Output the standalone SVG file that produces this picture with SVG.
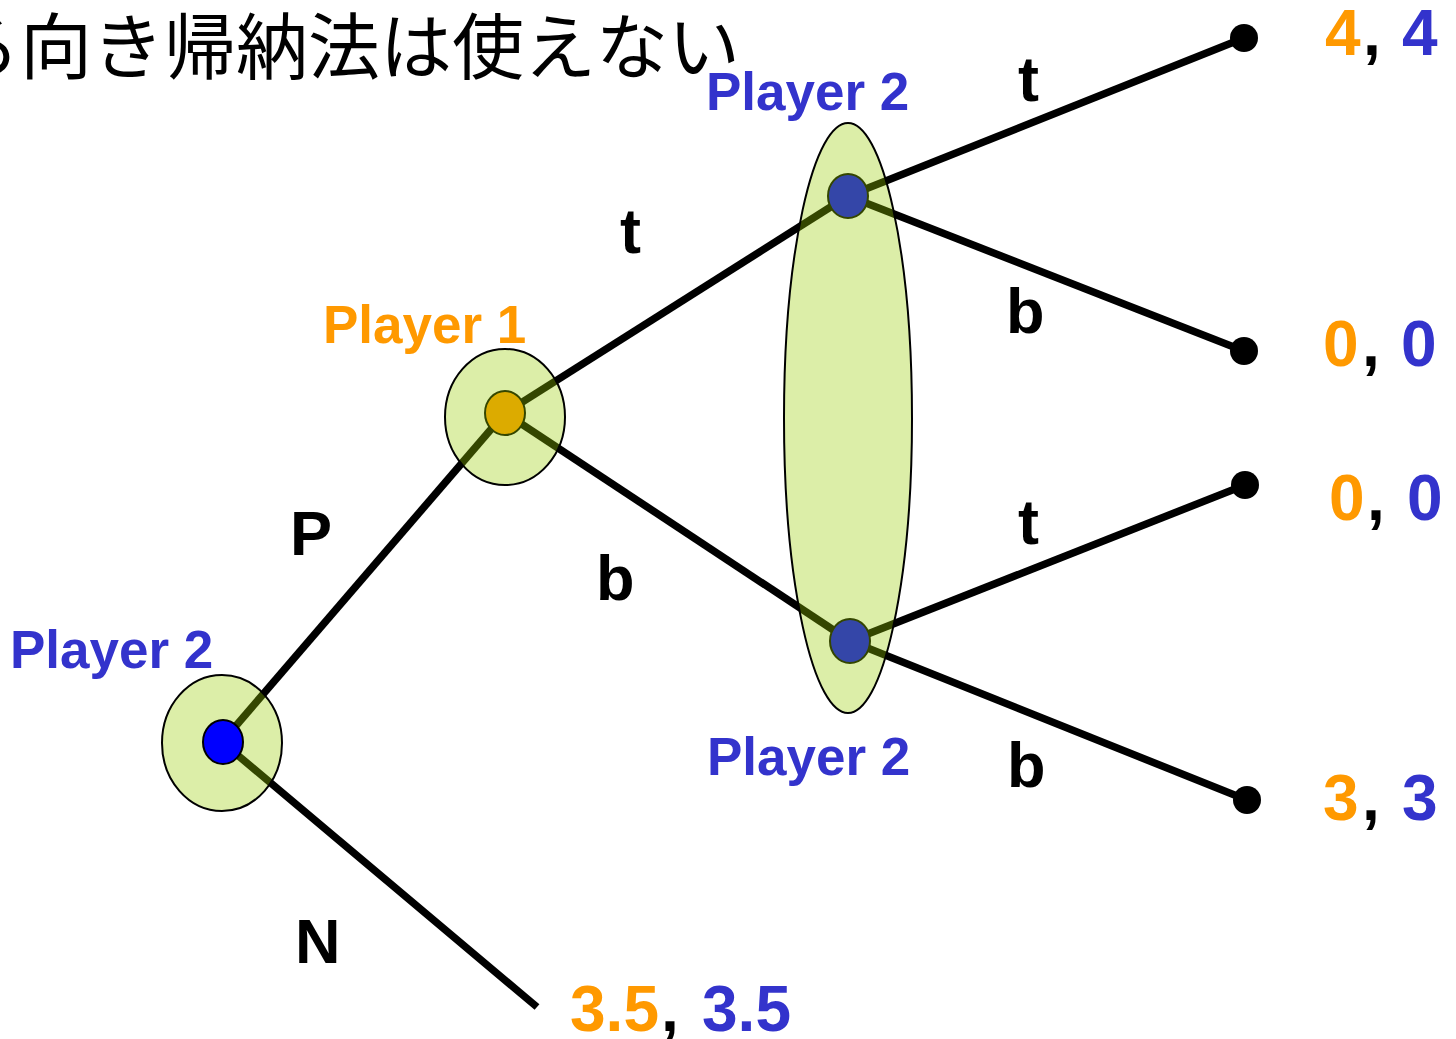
<svg xmlns="http://www.w3.org/2000/svg" width="1456" height="1039" viewBox="0 0 1456 1039">
<style>
.edge{stroke:#000;stroke-width:7.5;fill:none}
.set{fill:#99cc00;fill-opacity:0.34;stroke:#000;stroke-width:2}
.term{fill:#000}
.lbl{font-family:"Liberation Sans",Arial,sans-serif;font-weight:bold}
.pl{font-size:53px}
.act{font-size:63px;fill:#000}
.pay{font-size:64px}
.or{fill:#ff9900}
.bl{fill:#3333cc}
.bk{fill:#000}
</style>
<rect width="1456" height="1039" fill="#fff"/>
<text x="-124" y="73" font-family="Noto Sans CJK JP, sans-serif" font-size="72" fill="#000">後ろ向き帰納法は使えない</text>
<g id="connectors">
<line class="edge" x1="222" y1="742" x2="505" y2="413"/>
<line class="edge" x1="222" y1="742" x2="537" y2="1007"/>
<line class="edge" x1="505" y1="413" x2="848" y2="196"/>
<line class="edge" x1="505" y1="413" x2="850" y2="641"/>
<line class="edge" x1="848" y1="196" x2="1244" y2="38"/>
<line class="edge" x1="848" y1="196" x2="1244" y2="351"/>
<line class="edge" x1="850" y1="641" x2="1245" y2="485"/>
<line class="edge" x1="850" y1="641" x2="1247" y2="800"/>
</g>
<g id="n-p1">
<ellipse cx="505" cy="413" rx="20" ry="22" fill="#ff9900" stroke="#000" stroke-width="2"/>
</g>
<g id="n-p2-top">
<ellipse cx="848" cy="196" rx="20" ry="22" fill="#0000ff" stroke="#000" stroke-width="2"/>
</g>
<g id="n-p2-bottom">
<ellipse cx="850" cy="641" rx="20" ry="22" fill="#0000ff" stroke="#000" stroke-width="2"/>
</g>
<g id="info-sets">
<ellipse class="set" cx="222" cy="743" rx="60" ry="68"/>
<ellipse class="set" cx="505" cy="417" rx="60" ry="68"/>
<ellipse class="set" cx="848" cy="418" rx="64" ry="295"/>
</g>
<g id="n-root">
<ellipse cx="223" cy="742" rx="20" ry="22" fill="#0000ff" stroke="#000" stroke-width="2"/>
</g>
<g id="terminals">
<circle class="term" cx="1244" cy="38" r="14"/>
<circle class="term" cx="1244" cy="351" r="14"/>
<circle class="term" cx="1245" cy="485" r="14"/>
<circle class="term" cx="1247" cy="800" r="14"/>
</g>
<g id="player-labels" class="lbl pl">
<text x="706" y="110" class="bl">Player 2</text>
<text x="323" y="343" class="or">Player 1</text>
<text x="10" y="668" class="bl">Player 2</text>
<text x="707" y="775" class="bl">Player 2</text>
</g>
<g id="action-labels" class="lbl act">
<text x="1018" y="101">t</text>
<text x="1006" y="333">b</text>
<text x="620" y="253">t</text>
<text x="596" y="600">b</text>
<text x="1018" y="544">t</text>
<text x="1007" y="787">b</text>
<text x="290" y="555">P</text>
<text x="295" y="963">N</text>
</g>
<g id="payoffs" class="lbl pay">
<text y="55"><tspan x="1325" class="or">4</tspan><tspan x="1363" class="bk">,</tspan><tspan x="1402" class="bl">4</tspan></text>
<text y="366"><tspan x="1323" class="or">0</tspan><tspan x="1362" class="bk">,</tspan><tspan x="1401" class="bl">0</tspan></text>
<text y="520"><tspan x="1329" class="or">0</tspan><tspan x="1367" class="bk">,</tspan><tspan x="1407" class="bl">0</tspan></text>
<text y="820"><tspan x="1323" class="or">3</tspan><tspan x="1362" class="bk">,</tspan><tspan x="1402" class="bl">3</tspan></text>
<text y="1031"><tspan x="570" class="or">3.5</tspan><tspan x="661" class="bk">,</tspan><tspan x="702" class="bl">3.5</tspan></text>
</g>
</svg>
